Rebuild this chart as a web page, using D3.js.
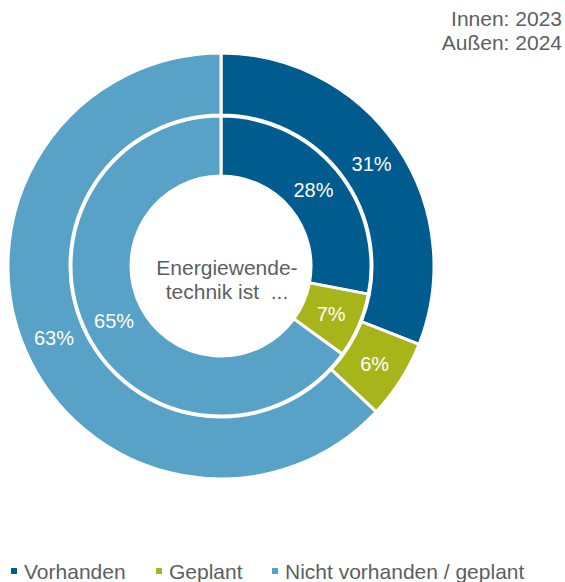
<!DOCTYPE html>
<html><head><meta charset="utf-8">
<script src="https://cdn.jsdelivr.net/npm/d3@7"></script>
<style>body{margin:0;background:#fff}svg{display:block;font-family:"Liberation Sans",Arial,sans-serif}</style>
</head><body><svg id="c" width="565" height="582"></svg>
<script>
const categories = ["Vorhanden", "Geplant", "Nicht vorhanden / geplant"];
const values2024 = [31, 6, 63];   // outer ring
const values2023 = [28, 7, 65];   // inner ring
const colors = ["#005B8E", "#A7B51B", "#58A2C8"];
const cornerLabels = ["Innen: 2023", "Außen: 2024"];
const centerLines = ["Energiewende-", "technik ist  ..."];

const svg = d3.select("#c");
const cx = 221, cy = 266;
const g = svg.append("g").attr("transform", `translate(${cx},${cy})`);
const pie = d3.pie().sort(null).value(d => d);
const color = d3.scaleOrdinal().domain(d3.range(3)).range(colors);

function ring(vals, r0, r1) {
  const arc = d3.arc().innerRadius(r0).outerRadius(r1);
  const lab = d3.arc().innerRadius((r0 + r1) / 2).outerRadius((r0 + r1) / 2);
  const arcs = pie(vals);
  g.append("g").selectAll("path").data(arcs).join("path")
    .attr("d", arc).attr("fill", (d, i) => color(i))
    .attr("stroke", "#fff").attr("stroke-width", 3).attr("stroke-linejoin", "miter");
  g.append("g").selectAll("text").data(arcs).join("text")
    .attr("transform", d => `translate(${lab.centroid(d)})`)
    .attr("text-anchor", "middle").attr("dy", "0.36em")
    .attr("fill", "#fff").attr("font-size", 20)
    .text(d => d.data + "%");
}
ring(values2024, 151, 213);
ring(values2023, 90, 150);

svg.append("g").selectAll("text").data(centerLines).join("text")
  .attr("x", 227).attr("y", (d, i) => 275 + i * 24)
  .attr("text-anchor", "middle").attr("fill", "#5B5F64").attr("font-size", 21)
  .style("white-space", "pre").attr("xml:space", "preserve")
  .text(d => d);

svg.append("g").selectAll("text").data(cornerLabels).join("text")
  .attr("x", 562).attr("y", (d, i) => 26 + i * 24)
  .attr("text-anchor", "end").attr("fill", "#5B5F64").attr("font-size", 21)
  .text(d => d);

const legendX = [11, 156, 272];
const leg = svg.append("g").selectAll("g").data(categories).join("g")
  .attr("transform", (d, i) => `translate(${legendX[i]},0)`);
leg.append("rect").attr("x", 0).attr("y", 568).attr("width", 6).attr("height", 6)
  .attr("fill", (d, i) => color(i));
leg.append("text").attr("x", 13).attr("y", 579).attr("fill", "#5B5F64").attr("font-size", 21)
  .text(d => d);
</script></body></html>
